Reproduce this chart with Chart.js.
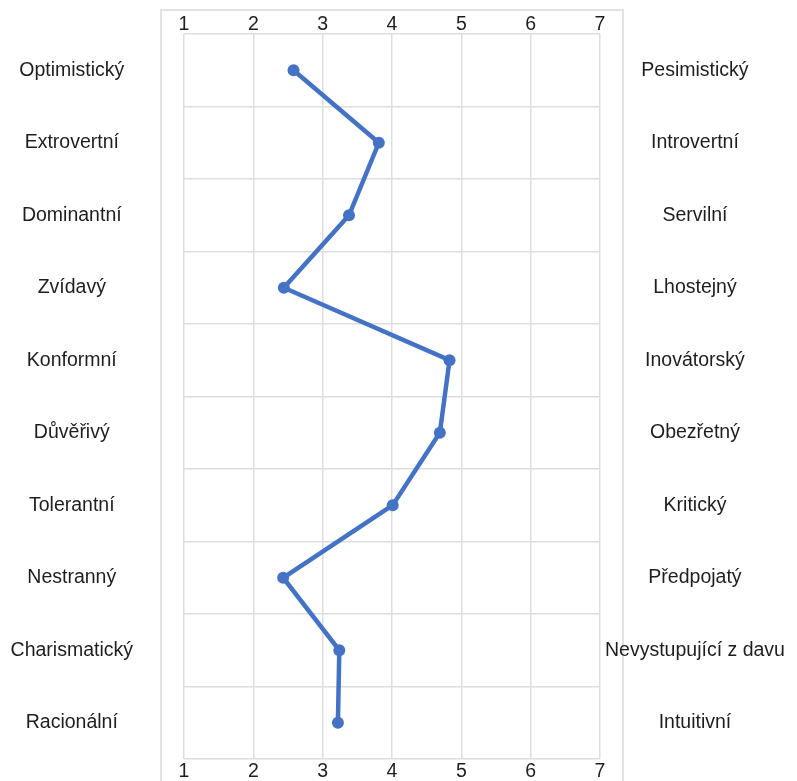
<!DOCTYPE html>
<html>
<head>
<meta charset="utf-8">
<script src="https://cdn.jsdelivr.net/npm/chart.js@4"></script>
<style>
  html, body { margin: 0; padding: 0; background: #ffffff; }
  #wrap { width: 797px; height: 781px; position: relative; }
</style>
</head>
<body>
<div id="wrap"><canvas id="c"></canvas></div>
<script>
const leftLabels = ["Optimistický","Extrovertní","Dominantní","Zvídavý","Konformní","Důvěřivý","Tolerantní","Nestranný","Charismatický","Racionální"];
const rightLabels = ["Pesimistický","Introvertní","Servilní","Lhostejný","Inovátorský","Obezřetný","Kritický","Předpojatý","Nevystupující z davu","Intuitivní"];
const values = [2.58, 3.81, 3.38, 2.44, 4.83, 4.69, 4.01, 2.43, 3.24, 3.22];
const scaleMin = 1;
const scaleMax = 7;

const FONT = "'Liberation Sans', Arial, sans-serif";
const GRID = '#dedede';
const TEXT = '#1e1e1e';

const framePlugin = {
  id: 'frame',
  beforeDraw(chart) {
    const a = chart.chartArea, ctx = chart.ctx;
    ctx.save();
    ctx.strokeStyle = '#e2e2e2';
    ctx.lineWidth = 2;
    ctx.strokeRect(a.left - 23, a.top - 24, (a.right - a.left) + 46, (a.bottom - a.top) + 60);
    ctx.restore();
  }
};

function fixWidth(w) { return s => { s.width = w; s.paddingTop = 0; s.paddingBottom = 0; }; }
function fixHeight(h) { return s => { s.height = h; s.paddingLeft = 0; s.paddingRight = 0; }; }

new Chart(document.getElementById('c'), {
  type: 'line',
  data: {
    labels: leftLabels,
    datasets: [{
      data: values,
      xAxisID: 'x',
      yAxisID: 'y',
      borderColor: '#4472C4',
      backgroundColor: '#4472C4',
      borderWidth: 4.5,
      pointRadius: 6,
      pointHoverRadius: 6,
      pointBorderWidth: 0,
      tension: 0,
      fill: false
    }]
  },
  options: {
    indexAxis: 'y',
    responsive: true,
    maintainAspectRatio: false,
    animation: false,
    layout: { padding: 0 },
    plugins: { legend: { display: false }, tooltip: { enabled: false } },
    scales: {
      x: {
        type: 'linear', position: 'top', min: scaleMin, max: scaleMax,
        ticks: { stepSize: 1, color: TEXT, font: { family: FONT, size: 19.5 }, padding: -2 },
        grid: { color: GRID, lineWidth: 1.5, drawTicks: false },
        border: { display: false },
        afterFit: fixHeight(34)
      },
      x2: {
        type: 'linear', position: 'bottom', min: scaleMin, max: scaleMax,
        ticks: { stepSize: 1, color: TEXT, font: { family: FONT, size: 19.5 }, padding: 1 },
        grid: { display: false, drawTicks: false },
        border: { display: false },
        afterFit: fixHeight(22)
      },
      y: {
        type: 'category', position: 'left', offset: true, labels: leftLabels,
        ticks: { crossAlign: 'center', padding: 51, color: TEXT, font: { family: FONT, size: 19.5 } },
        grid: { color: GRID, lineWidth: 1.5, offset: true, drawTicks: false },
        border: { display: false },
        afterFit: fixWidth(184)
      },
      y2: {
        type: 'category', position: 'right', offset: true, labels: rightLabels,
        ticks: { crossAlign: 'center', padding: 5, color: TEXT, font: { family: FONT, size: 19.5 } },
        grid: { display: false, offset: true, drawTicks: false },
        border: { display: false },
        afterFit: fixWidth(197)
      }
    }
  },
  plugins: [framePlugin]
});
</script>
</body>
</html>
